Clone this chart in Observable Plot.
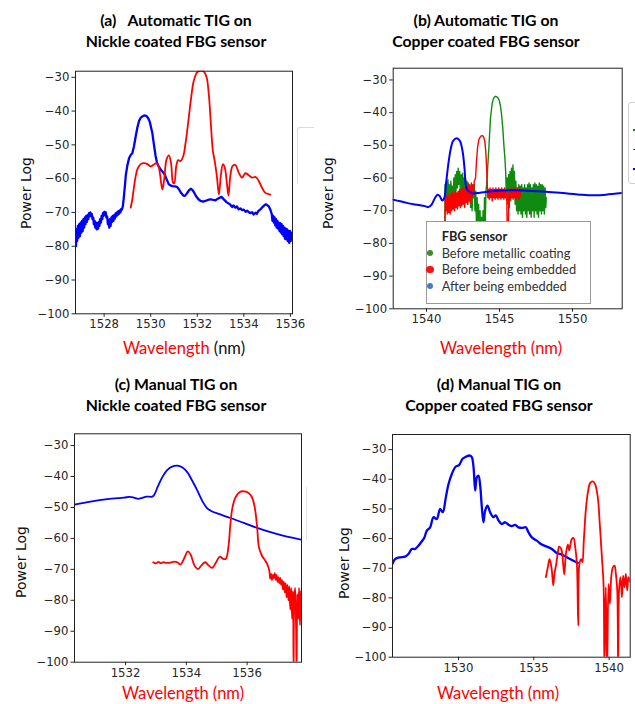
<!DOCTYPE html>
<html><head><meta charset="utf-8">
<script src="https://cdn.jsdelivr.net/npm/d3@7"></script>
<script src="https://cdn.jsdelivr.net/npm/@observablehq/plot@0.6"></script>
<style>
body{margin:0;background:#fff;}
#root{position:relative;width:635px;height:704px;overflow:hidden;background:#fff;}
.title{position:absolute;width:300px;font-family:Lato,sans-serif;font-weight:bold;font-size:15.8px;color:#000;text-align:center;white-space:pre;line-height:20.5px;}
.xlab{position:absolute;width:200px;font-family:Lato,sans-serif;font-size:16.5px;text-align:center;white-space:pre;line-height:20px;color:#111;}
.ylab{position:absolute;font-family:"DejaVu Sans",sans-serif;font-size:14px;color:#111;transform:translate(-50%,-50%) rotate(-90deg);white-space:pre;}
.legend{position:absolute;background:#fff;border:1px solid #9a9a9a;font-family:Lato,sans-serif;font-size:12.8px;color:#333;}
</style></head><body><div id="root"></div><script>
// ---------- data ----------
const yTicks = [-100, -90, -80, -70, -60, -50, -40, -30];
const xTicksA = [1528, 1530, 1532, 1534, 1536];
const xTicksB = [1540, 1545, 1550];
const xTicksC = [1532, 1534, 1536];
const xTicksD = [1530, 1535, 1540];

const titlesA = ["(a)   Automatic TIG on", "Nickle coated FBG sensor"];
const titlesB = ["(b) Automatic TIG on", "Copper coated FBG sensor"];
const titlesC = ["(c) Manual TIG on", "Nickle coated FBG sensor"];
const titlesD = ["(d) Manual TIG on", "Copper coated FBG sensor"];
const legendTitle = "FBG sensor";
const legendLabels = ["Before metallic coating", "Before being embedded", "After being embedded"];

// (a) Automatic TIG, Nickle coated
const aBlue = [[1526.77,-76],[1526.79,-80],[1526.81,-75],[1526.84,-78.5],[1526.87,-74],[1526.9,-77.5],[1526.93,-73.5],[1526.96,-77],[1526.99,-73],[1527.02,-76],[1527.05,-72.5],[1527.08,-75.5],[1527.11,-72],[1527.14,-74.5],[1527.17,-71.5],[1527.2,-73.5],[1527.23,-71],[1527.26,-72.8],[1527.29,-70.8],[1527.32,-72],[1527.35,-70.2],[1527.38,-71.2],[1527.41,-70],[1527.44,-71],[1527.47,-70.5],[1527.5,-72],[1527.53,-71.5],[1527.56,-73.5],[1527.59,-72.5],[1527.62,-74.5],[1527.65,-73],[1527.68,-75],[1527.71,-73.2],[1527.74,-74.8],[1527.77,-72.8],[1527.8,-74],[1527.83,-72],[1527.86,-73],[1527.89,-71],[1527.92,-72],[1527.95,-70.2],[1527.98,-71],[1528.01,-69.8],[1528.04,-70.8],[1528.07,-70],[1528.1,-71.5],[1528.13,-71.2],[1528.16,-73.5],[1528.19,-72.2],[1528.22,-74.5],[1528.25,-72],[1528.28,-74],[1528.31,-71.5],[1528.34,-72.8],[1528.37,-71],[1528.4,-72.5],[1528.43,-70.8],[1528.46,-71.8],[1528.49,-70.3],[1528.52,-71.2],[1528.55,-70],[1528.58,-70.8],[1528.61,-69.6],[1528.64,-70.4],[1528.67,-69.4],[1528.7,-70],[1528.73,-69],[1528.76,-69.2],[1528.8,-68.3],
[1528.84,-66],[1528.9,-61.5],[1528.93,-59],[1529.0,-56],[1529.07,-54],[1529.14,-53],[1529.21,-52.5],[1529.28,-50.5],[1529.36,-47.3],[1529.43,-44.8],[1529.5,-42.9],[1529.57,-42],[1529.64,-41.6],[1529.72,-41.3],[1529.81,-41.4],[1529.9,-42.2],[1529.96,-43.2],[1530.02,-45],[1530.07,-46.5],[1530.14,-50],[1530.21,-53.3],[1530.27,-55.3],[1530.33,-56.2],[1530.4,-57],[1530.47,-57.7],[1530.54,-58.2],[1530.61,-58.9],[1530.7,-60.5],[1530.78,-61.7],[1530.85,-62],[1530.93,-62.2],[1531.05,-62.3],[1531.14,-62.5],[1531.22,-63.2],[1531.3,-64.2],[1531.4,-65],[1531.47,-65.1],[1531.54,-64.5],[1531.64,-63.5],[1531.72,-63],[1531.8,-63.4],[1531.88,-64.3],[1531.95,-65.2],[1532.05,-66.1],[1532.14,-66.6],[1532.25,-66.8],[1532.35,-66.6],[1532.45,-66.3],[1532.57,-66.1],[1532.68,-66.3],[1532.78,-66.4],[1532.9,-65.9],[1533.04,-65.4],
[1533.15,-66.2],[1533.28,-67.1],[1533.4,-67.6],[1533.5,-68.4],[1533.55,-67.9],[1533.64,-68.6],[1533.7,-68.2],[1533.78,-69.1],[1533.85,-68.8],[1533.92,-69.3],[1534.0,-69.2],[1534.08,-69.8],[1534.15,-69.5],[1534.21,-69.9],[1534.3,-70.2],[1534.36,-69.9],[1534.42,-70.6],[1534.5,-70.1],[1534.56,-70.4],[1534.62,-69.6],[1534.71,-69.1],[1534.8,-68.4],[1534.88,-67.9],[1534.95,-67.6],
[1535.0,-67.8],[1535.08,-68.3],[1535.14,-69.2],[1535.2,-70.5],[1535.23,-72.5],[1535.26,-71],[1535.29,-73],[1535.32,-71.5],[1535.35,-73.8],[1535.38,-72],[1535.41,-74.5],[1535.44,-72.5],[1535.47,-74.8],[1535.5,-73],[1535.53,-75.5],[1535.56,-73.2],[1535.59,-76],[1535.62,-73.5],[1535.65,-76.5],[1535.68,-74],[1535.71,-77],[1535.74,-74.5],[1535.77,-77.8],[1535.8,-74.8],[1535.83,-78],[1535.86,-75],[1535.89,-78.5],[1535.92,-75.5],[1535.95,-79],[1535.98,-75.5],[1536.01,-78.5],[1536.04,-76],[1536.07,-78],[1536.09,-77]];
const aRed = [[1529.14,-68.6],[1529.21,-66.1],[1529.33,-60.2],[1529.43,-57.2],[1529.57,-55.7],[1529.71,-55.4],[1529.86,-55.7],[1530.00,-56.4],[1530.14,-55.8],[1530.24,-55.4],[1530.33,-56.2],[1530.41,-59.2],[1530.50,-63.2],[1530.58,-60.2],[1530.68,-54.3],[1530.78,-53.1],[1530.87,-55.2],[1530.96,-61.2],[1531.01,-61.4],[1531.10,-56.2],[1531.18,-54.5],[1531.28,-54.8],[1531.40,-53.3],[1531.50,-49.3],[1531.61,-43.4],[1531.73,-36.4],[1531.85,-31],[1532.00,-28.5],[1532.14,-28],[1532.28,-28.3],[1532.40,-30],[1532.50,-35.4],[1532.58,-43.4],[1532.67,-51.8],[1532.75,-54.8],[1532.84,-59.2],[1532.93,-64.7],[1533.01,-59.2],[1533.10,-55.7],[1533.18,-56.7],[1533.27,-61.2],[1533.34,-65],[1533.42,-59.2],[1533.52,-56.2],[1533.64,-56],[1533.78,-58.2],[1533.92,-59.7],[1534.07,-58.4],[1534.21,-59],[1534.35,-59.7],[1534.50,-59.5],[1534.64,-60.7],[1534.78,-62.7],[1534.92,-64.2],[1535.14,-64.7]];

// (b) Automatic TIG, Copper coated
const bGreen = [[1541.25,-95],[1541.27,-62],[1541.32,-68],[1541.37,-61],[1541.42,-67],[1541.47,-60.5],[1541.52,-66],[1541.57,-62],[1541.62,-67],[1541.67,-61],[1541.72,-66],[1541.77,-62.5],[1541.82,-67.5],[1541.87,-60],[1541.92,-65],[1541.97,-59],[1542.02,-64],[1542.07,-58],[1542.12,-63],[1542.17,-57],[1542.22,-62],[1542.27,-58],[1542.32,-64],[1542.37,-59],[1542.42,-65],[1542.47,-58.5],[1542.52,-64],[1542.57,-60],[1542.62,-66],[1542.67,-60],[1542.72,-67],[1542.77,-61],[1542.82,-68],[1542.87,-61.5],[1542.92,-67],[1542.97,-62],[1543.02,-69],[1543.07,-63],[1543.12,-70],[1543.17,-64],[1543.22,-66],[1543.27,-62],[1543.32,-70],[1543.37,-64],[1543.42,-74],[1543.47,-66],[1543.52,-80],[1543.57,-68],[1543.62,-85],[1543.67,-70],[1543.72,-90],[1543.77,-72],[1543.82,-88],[1543.87,-70],[1543.92,-82],[1543.97,-66],[1544.02,-75],[1544.07,-64],[1544.12,-62],
[1544.16,-59],[1544.27,-50.8],[1544.38,-41.7],[1544.5,-37.1],[1544.58,-35.8],[1544.66,-35.2],[1544.74,-35],[1544.82,-35.2],[1544.9,-35.5],[1544.98,-36.3],[1545.06,-37.8],[1545.14,-40.5],[1545.22,-44.5],[1545.3,-50],[1545.37,-54],[1545.42,-58],
[1545.47,-66],[1545.52,-60],[1545.57,-68],[1545.62,-59],[1545.67,-69],[1545.72,-58],[1545.77,-67],[1545.82,-57],[1545.87,-66],[1545.92,-56],[1545.97,-65],[1546.02,-58],[1546.07,-68],[1546.12,-61],[1546.17,-70],[1546.22,-63],[1546.27,-71],[1546.32,-62],[1546.37,-70],[1546.42,-62.5],[1546.47,-71],[1546.52,-62],[1546.57,-72],[1546.62,-63],[1546.67,-70],[1546.72,-62],[1546.77,-71],[1546.82,-63],[1546.87,-72],[1546.92,-62],[1546.97,-70],[1547.02,-61.5],[1547.07,-71],[1547.12,-62],[1547.17,-72],[1547.22,-63],[1547.27,-70],[1547.32,-62],[1547.37,-72],[1547.42,-61.5],[1547.47,-70],[1547.52,-62],[1547.57,-71],[1547.62,-62.5],[1547.67,-72],[1547.72,-61.5],[1547.77,-70],[1547.82,-62],[1547.87,-71],[1547.92,-62],[1547.97,-70],[1548.02,-62.5],[1548.07,-71],[1548.12,-63],[1548.17,-69],[1548.2,-66]];
const bRed = [[1541.25,-95],[1541.28,-66],[1541.32,-70],[1541.37,-65.5],[1541.42,-71],[1541.47,-65],[1541.52,-70.5],[1541.57,-66],[1541.62,-71],[1541.67,-65],[1541.72,-70],[1541.77,-64.5],[1541.82,-69.5],[1541.87,-65],[1541.92,-70],[1541.97,-64],[1542.02,-69],[1542.07,-64.5],[1542.12,-69.5],[1542.17,-64],[1542.22,-68.5],[1542.27,-63.5],[1542.32,-69],[1542.37,-64],[1542.42,-68.5],[1542.47,-63],[1542.52,-68],[1542.57,-63.5],[1542.62,-69],[1542.67,-62.5],[1542.72,-67.5],[1542.77,-63],[1542.82,-68],[1542.87,-62],[1542.92,-67],[1542.97,-62.5],[1543.02,-67.5],[1543.07,-61.5],[1543.12,-66],[1543.17,-62],[1543.22,-65],[1543.27,-61],
[1543.36,-60],[1543.42,-55],[1543.5,-50.5],[1543.6,-48],[1543.72,-47.2],[1543.83,-47],[1543.92,-47.5],[1544.0,-49],[1544.06,-52],[1544.12,-57],[1544.16,-62],
[1544.2,-66],[1544.25,-63.5],[1544.3,-66.5],[1544.35,-63],[1544.4,-66],[1544.45,-63.5],[1544.5,-67],[1544.55,-63],[1544.6,-66],[1544.65,-63.5],[1544.7,-66.5],[1544.75,-63],[1544.8,-66],[1544.85,-63.5],[1544.9,-66.5],[1544.95,-63],[1545.0,-66],[1545.05,-63.5],[1545.1,-66.5],[1545.15,-63],[1545.2,-66],[1545.25,-63.5],[1545.3,-66.5],[1545.35,-63],[1545.4,-66],[1545.45,-64],[1545.5,-67],[1545.54,-80],[1545.57,-95],[1545.6,-80],[1545.63,-66],[1545.68,-63.5],[1545.73,-66.5],[1545.78,-63],[1545.83,-66],[1545.88,-63.5],[1545.93,-66.5],[1545.98,-63],[1546.03,-66],[1546.08,-63.5],[1546.13,-66.5],[1546.18,-63],[1546.23,-66],[1546.28,-63.5],[1546.33,-66.5],[1546.38,-63],[1546.43,-65.5]];
const bBlue = [[1537.7,-66.6],[1538.2,-67.1],[1538.65,-67.6],[1539.1,-68],[1539.56,-68.3],[1539.9,-68.6],[1540.13,-68.9],[1540.35,-68.1],[1540.58,-66.1],[1540.76,-65.1],[1540.92,-65.6],[1541.08,-66.9],[1541.22,-66.1],[1541.33,-62],[1541.49,-55.9],[1541.65,-51.3],[1541.83,-48.6],[1542.06,-47.8],[1542.28,-48.6],[1542.47,-51.8],[1542.6,-56.9],[1542.69,-62],[1542.81,-63.8],[1542.97,-64.2],[1543.19,-64.7],[1543.65,-64.5],[1544.33,-64.1],[1545.24,-63.8],[1546.6,-63.8],[1547.97,-64.1],[1549.33,-64.6],[1550.69,-65.1],[1551.6,-65.3],[1552.28,-65.1],[1553.4,-64.6]];

// (c) Manual TIG, Nickle coated
const cBlue = [[1530.32,-49.1],[1530.85,-48.1],[1531.4,-47.3],[1531.95,-46.8],[1532.14,-46.6],[1532.27,-46.8],[1532.42,-47.2],[1532.55,-46.9],[1532.69,-46.5],[1532.88,-46.5],[1532.95,-45.8],[1533.06,-43.3],[1533.21,-40.2],[1533.37,-37.9],[1533.53,-36.8],[1533.7,-36.5],[1533.86,-37],[1534.03,-38.6],[1534.19,-41.3],[1534.36,-44.5],[1534.52,-47.8],[1534.68,-50.2],[1534.85,-51.3],[1535.07,-52.1],[1535.45,-53.4],[1535.89,-55],[1536.33,-56.6],[1536.77,-58],[1537.21,-59.2],[1537.79,-60.4]];
const cRed = [[1532.91,-67.7],[1533.0,-68.1],[1533.08,-67.6],[1533.15,-68],[1533.25,-67.7],[1533.35,-67.9],[1533.48,-67.8],[1533.6,-67.5],[1533.7,-67.7],[1533.81,-68.5],[1533.92,-66.6],[1534.05,-64.2],[1534.14,-65.2],[1534.27,-68.8],[1534.38,-69.9],[1534.49,-68.8],[1534.62,-67.7],[1534.74,-68.8],[1534.85,-69.5],[1534.98,-67.7],[1535.1,-65.9],[1535.21,-66.6],[1535.3,-66.6],[1535.39,-62.3],[1535.45,-55.3],[1535.52,-49.9],[1535.62,-46.7],[1535.78,-44.9],[1535.91,-44.8],[1536.05,-45.3],[1536.16,-46.7],[1536.25,-49.9],[1536.33,-56.4],[1536.39,-62.9],[1536.49,-65.6],[1536.6,-67.2],[1536.67,-68.5],[1536.73,-70.4],
[1536.76,-73],[1536.79,-71.5],[1536.82,-73.5],[1536.85,-71.8],[1536.88,-72.8],[1536.91,-71.2],[1536.94,-73.4],[1536.97,-71.8],[1537.0,-74],[1537.03,-72.5],[1537.06,-74.5],[1537.09,-72.8],[1537.12,-75],[1537.15,-73.5],[1537.18,-76.5],[1537.21,-74],[1537.24,-77.5],[1537.27,-74.5],[1537.3,-79],[1537.33,-75],[1537.36,-80],[1537.39,-75.5],[1537.42,-83],[1537.45,-76],[1537.48,-86],[1537.51,-77],[1537.53,-103],[1537.55,-80],[1537.58,-76],[1537.61,-88],[1537.63,-103],[1537.65,-78],[1537.68,-86],[1537.71,-76],[1537.74,-88],[1537.77,-77],[1537.8,-84]];

// (d) Manual TIG, Copper coated
const dBlue = [[1525.62,-68.5],[1525.79,-66.9],[1526.13,-66.3],[1526.46,-66.1],[1526.68,-65.2],[1526.9,-63.5],[1527.12,-63.5],[1527.34,-62.4],[1527.57,-60.9],[1527.74,-59.6],[1527.9,-57.3],[1528.12,-56.2],[1528.34,-52.8],[1528.56,-53.4],[1528.78,-50],[1528.96,-51.1],[1529.16,-46.1],[1529.34,-41.6],[1529.56,-38.2],[1529.82,-35.7],[1530.04,-35.2],[1530.27,-33.1],[1530.49,-32.4],[1530.77,-32],[1530.89,-32.6],[1531.0,-36],[1531.11,-43.8],[1531.22,-39.3],[1531.33,-38.8],[1531.44,-42.1],[1531.55,-49.4],[1531.66,-54.5],[1531.77,-50.6],[1531.93,-48.9],[1532.1,-51.1],[1532.32,-52.8],[1532.48,-52.2],[1532.66,-53.9],[1532.88,-55.1],[1533.1,-54.5],[1533.32,-55.3],[1533.54,-55.8],[1533.76,-55.4],[1533.98,-56.2],[1534.21,-56.4],[1534.47,-56.2],[1534.65,-57.9],[1534.87,-59.6],[1535.2,-60.7],[1535.53,-62],[1535.87,-62.7],[1536.2,-63.5],[1536.53,-64.9],[1536.86,-65.4],[1537.19,-66.3],[1537.53,-67.2],[1537.92,-68.2]];
const dRed = [[1535.8,-73],[1535.93,-69.7],[1536.04,-66.9],[1536.13,-68.5],[1536.2,-70.8],[1536.29,-75.8],[1536.37,-71.9],[1536.49,-68.5],[1536.6,-64.6],[1536.68,-62.7],[1536.82,-63.5],[1536.91,-66.3],[1537.02,-72.1],[1537.13,-65.2],[1537.26,-62],[1537.35,-64],[1537.44,-61.8],[1537.53,-60.1],[1537.64,-59.8],[1537.75,-62.9],[1537.86,-68.5],[1537.95,-89.3],[1538.03,-68.5],[1538.15,-66.9],[1538.23,-68],[1538.32,-60.7],[1538.46,-50],[1538.59,-44.4],[1538.74,-41.3],[1538.92,-40.7],[1539.07,-41.6],[1539.25,-46.1],[1539.38,-55.1],[1539.52,-66.3],[1539.63,-75.3],[1539.69,-104],[1539.78,-76.4],[1539.87,-104],[1539.96,-75.3],[1540.05,-82],[1540.14,-73],[1540.25,-69.7],[1540.36,-69.1],[1540.45,-71.9],[1540.54,-77.5],[1540.6,-104],[1540.67,-76.4],[1540.76,-73],[1540.85,-79.8],[1540.93,-72.5],[1541.02,-76.4],[1541.11,-71.9],[1541.2,-77.5],[1541.29,-73],[1541.4,-74.7]];

// ---------- drawing ----------
const root = document.getElementById("root");
const minusFmt = d => d < 0 ? "\u2212" + Math.abs(d) : String(d);
const BLUE = "#0000ff", RED = "#ff0000", GREEN = "#108a10";

function addEl(html, cls, style) {
  const el = document.createElement("div");
  if (cls) el.className = cls;
  el.innerHTML = html;
  Object.assign(el.style, style);
  root.appendChild(el);
  return el;
}

function panel(cfg) {
  const svg = Plot.plot({
    width: cfg.w, height: cfg.h,
    marginLeft: cfg.ml, marginRight: cfg.mr, marginTop: cfg.mt, marginBottom: cfg.mb,
    x: {domain: cfg.xd, ticks: cfg.xt, tickFormat: d => String(d), tickSize: 3.5, tickPadding: 2.5, label: null},
    y: {domain: cfg.yd, ticks: yTicks, tickFormat: minusFmt, tickSize: 3.5, tickPadding: 2.5, label: null},
    style: {background: "transparent", fontFamily: "DejaVu Sans", fontSize: "11.7px", color: "#262626", overflow: "visible"},
    marks: [
      ...cfg.series.map(s => Plot.line(s.data, {x: d => d[0], y: d => d[1], stroke: s.color, strokeWidth: s.sw, curve: s.curve, clip: true})),
      Plot.frame({stroke: "#222", strokeWidth: 1})
    ]
  });
  const wrap = document.createElement("div");
  Object.assign(wrap.style, {position: "absolute", left: cfg.left + "px", top: cfg.top + "px"});
  wrap.appendChild(svg);
  root.appendChild(wrap);
}

panel({left: 0, top: 60, w: 305, h: 278, ml: 75, mr: 13, mt: 10.7, mb: 24.7,
  xd: [1526.77, 1536.09], yd: [-100, -28.2], xt: xTicksA,
  series: [{data: aBlue, color: BLUE, sw: 2.3, curve: "linear"}, {data: aRed, color: RED, sw: 1.8, curve: "catmull-rom"}]});
panel({left: 315, top: 60, w: 315, h: 278, ml: 77.7, mr: 8.3, mt: 7.7, mb: 29.7,
  xd: [1537.72, 1553.4], yd: [-100, -26.4], xt: xTicksB,
  series: [{data: bGreen, color: GREEN, sw: 1.4, curve: "linear"}, {data: bRed, color: RED, sw: 1.4, curve: "linear"}, {data: bBlue, color: BLUE, sw: 2, curve: "catmull-rom"}]});
panel({left: 0, top: 420, w: 305, h: 278, ml: 74, mr: 4, mt: 13.3, mb: 36.3,
  xd: [1530.32, 1537.79], yd: [-100, -26.2], xt: xTicksC,
  series: [{data: cBlue, color: BLUE, sw: 1.8, curve: "catmull-rom"}, {data: cRed, color: RED, sw: 1.8, curve: "catmull-rom"}]});
panel({left: 315, top: 420, w: 320, h: 278, ml: 77, mr: 5.3, mt: 14, mb: 41.3,
  xd: [1525.62, 1541.4], yd: [-100, -24.9], xt: xTicksD,
  series: [{data: dBlue, color: BLUE, sw: 2.3, curve: "catmull-rom"}, {data: dRed, color: RED, sw: 1.8, curve: "catmull-rom"}]});

// titles
addEl(titlesA.join("\n"), "title", {left: (176 - 150) + "px", top: "10px"});
addEl(titlesB.join("\n"), "title", {left: (486 - 150) + "px", top: "10px"});
addEl(titlesC.join("\n"), "title", {left: (176 - 150) + "px", top: "374px"});
addEl(titlesD.join("\n"), "title", {left: (499 - 150) + "px", top: "374px"});

// x labels
addEl('<span style="color:#ff0000">Wavelength</span> (nm)', "xlab", {left: (184 - 100) + "px", top: "338px"});
addEl('<span style="color:#ff0000">Wavelength (nm)</span>', "xlab", {left: (501 - 100) + "px", top: "338px"});
addEl('<span style="color:#ff0000">Wavelength (nm)</span>', "xlab", {left: (183 - 100) + "px", top: "683px"});
addEl('<span style="color:#ff0000">Wavelength (nm)</span>', "xlab", {left: (498 - 100) + "px", top: "683px"});

// y labels
[[26, 193], [328, 193], [21, 562], [344, 563]].forEach(([x, y]) =>
  addEl("Power Log", "ylab", {left: x + "px", top: y + "px"}));

// legend in (b)
const lg = addEl("", "legend", {left: "425.7px", top: "220.7px", width: "163px", height: "81px"});
const lgColors = ["#3f8a2f", "#ff1010", "#4a78c8"];
const lgSizes = [6, 7.5, 6];
lg.innerHTML = `<div style="position:absolute;left:15px;top:6px;font-weight:bold;color:#222">${legendTitle}</div>` +
  legendLabels.map((t, i) => `<div style="position:absolute;left:${3.3 - lgSizes[i] / 2}px;top:${31 + i * 16.8 - lgSizes[i] / 2}px;width:${lgSizes[i]}px;height:${lgSizes[i]}px;border-radius:50%;background:${lgColors[i]}"></div>` +
    `<div style="position:absolute;left:15px;top:${23 + i * 16.8}px;white-space:nowrap">${t}</div>`).join("");

// partially visible legend frames at the right edges
addEl("", null, {position: "absolute", left: "297px", top: "127px", width: "16px", height: "56px", borderLeft: "1px solid #dcdcdc", borderTop: "1px solid #dcdcdc", borderTopLeftRadius: "3px"});
const edge = addEl("", null, {position: "absolute", left: "628px", top: "102px", width: "12px", height: "80px", border: "1px solid #cfcfcf", borderRadius: "3px", background: "#fff"});
edge.innerHTML = [GREEN, RED, BLUE].map((c, i) => `<div style="position:absolute;left:4px;top:${26 + i * 19.5}px;width:4px;height:1.5px;background:${c}"></div>`).join("");
addEl("", null, {position: "absolute", left: "306px", top: "487px", width: "0px", height: "53px", borderLeft: "1px solid #e4e4e4"});
</script></body></html>
